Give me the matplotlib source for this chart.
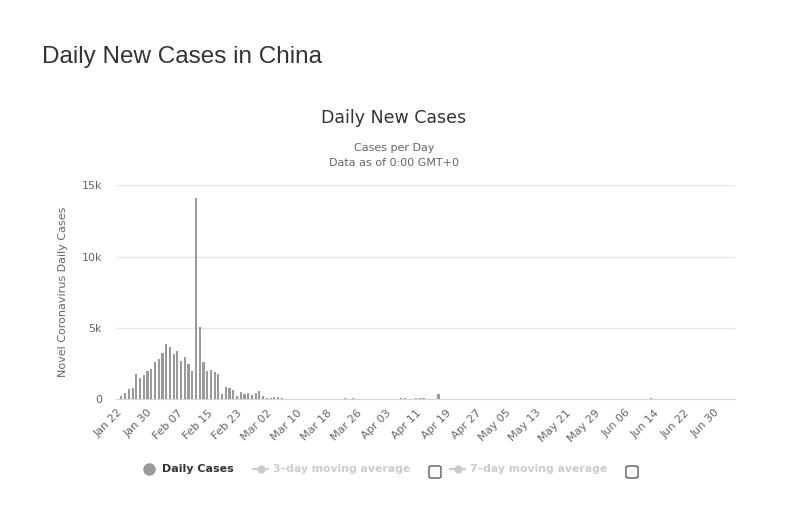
import matplotlib
matplotlib.use('Agg')
import matplotlib.pyplot as plt
import numpy as np
import pandas as pd
from matplotlib.lines import Line2D
from matplotlib.patches import FancyBboxPatch

# daily new cases, Jan 22 .. Jul 05 2020
dates = pd.date_range('2020-01-22', '2020-07-05', freq='D')
cases = [
    0, 259, 457, 688, 769, 1771, 1459, 1737, 1981, 2099,            # Jan 22-31
    2589, 2825, 3235, 3884, 3694, 3143, 3385, 2652, 2973, 2467,     # Feb 01-10
    2015, 14108, 5090, 2641, 2008, 2048, 1886, 1749, 391, 889,      # Feb 11-20
    823, 648, 214, 508, 406, 433, 327, 427, 573,                    # Feb 21-29
    202, 125, 119, 139, 143, 99, 44, 40, 19, 24,                    # Mar 01-10
    15, 8, 11, 20, 16, 21, 13, 34, 39, 41,                          # Mar 11-20
    46, 39, 78, 47, 67, 55, 54, 45, 31, 31, 48,                     # Mar 21-31
    35, 31, 19, 30, 39, 32, 62, 63, 42, 46,                         # Apr 01-10
    99, 108, 89, 46, 26, 27, 352, 16, 12, 11,                       # Apr 11-20
    30, 10, 10, 6, 12, 3, 3, 22, 4, 12,                             # Apr 21-30
    2, 1, 2, 1, 1, 2, 4, 1, 14, 17,                                 # May 01-10
    1, 7, 3, 4, 5, 8, 5, 6, 6, 2,                                   # May 11-20
    4, 0, 3, 11, 3, 1, 2, 4, 2, 4, 16,                              # May 21-31
    5, 5, 4, 6, 5, 4, 6, 3, 3, 11,                                  # Jun 01-10
    11, 11, 57, 49, 40, 44, 28, 25, 32, 26,                         # Jun 11-20
    22, 18, 22, 19, 13, 21, 17, 12, 19, 3,                          # Jun 21-30
    3, 5, 3, 8, 7,                                                  # Jul 01-05
]
date_labels = [d.strftime('%b %d') for d in dates]
y_ticks = [0, 5000, 10000, 15000]
y_tick_labels = ['0', '5k', '10k', '15k']

W, H = 805, 511
fig = plt.figure(figsize=(W / 100, H / 100), dpi=100)
fig.patch.set_facecolor('white')

left, right, top, bottom = 115.8, 735, 185.3, 399.3
ax = fig.add_axes([left / W, 1 - bottom / H, (right - left) / W, (bottom - top) / H])

x = np.arange(len(cases))
ax.bar(x, cases, width=0.58, color='#9a9a9a', zorder=3)
ax.set_xlim(-0.5, len(cases) - 0.5)
ax.set_ylim(0, 15000)

ax.set_yticks(y_ticks)
ax.set_yticklabels(y_tick_labels)
ax.yaxis.grid(True, color='#e6e6e6', linewidth=1)
ax.tick_params(axis='y', length=0, pad=10, labelsize=8, labelcolor='#666666')
for s in ['top', 'right', 'left']:
    ax.spines[s].set_visible(False)
ax.spines['bottom'].set_color('#ccd6eb')

ax.set_xticks(x[::8])
ax.set_xticklabels(date_labels[::8], rotation=45, ha='right', rotation_mode='anchor')
ax.tick_params(axis='x', length=0, pad=6, labelsize=8, labelcolor='#666666')
ax.set_ylabel('Novel Coronavirus Daily Cases', color='#666666', fontsize=8, labelpad=10)

fig.text(42 / W, 1 - 57 / H, 'Daily New Cases in China', fontsize=17.5,
         family='Liberation Sans', color='#333333', va='center', ha='left')
fig.text(394 / W, 1 - 118 / H, 'Daily New Cases', fontsize=12.5,
         color='#333333', va='center', ha='center')
fig.text(394 / W, 1 - 148 / H, 'Cases per Day', fontsize=8,
         color='#666666', va='center', ha='center')
fig.text(394 / W, 1 - 163 / H, 'Data as of 0:00 GMT+0', fontsize=8,
         color='#666666', va='center', ha='center')

# legend
ly = 1 - 469 / H
fig.add_artist(Line2D([149 / W], [ly], marker='o', markersize=8, color='#9a9a9a',
                      transform=fig.transFigure))
fig.text(162 / W, ly, 'Daily Cases', fontsize=8, fontweight='bold',
         color='#333333', va='center', ha='left')
for x0, lab, bx in [(253, '3\u2013day moving average', 435),
                    (450, '7\u2013day moving average', 632)]:
    fig.add_artist(Line2D([x0 / W, (x0 + 15) / W], [ly, ly], color='#cccccc',
                          linewidth=1.5, transform=fig.transFigure))
    fig.add_artist(Line2D([(x0 + 7.5) / W], [ly], marker='o', markersize=5,
                          color='#cccccc', transform=fig.transFigure))
    fig.text((x0 + 20) / W, ly, lab, fontsize=7.8, fontweight='bold',
             color='#cccccc', va='center', ha='left')
    fig.add_artist(FancyBboxPatch(((bx - 6) / W, 1 - 478 / H), 12 / W, 12 / H,
                                  boxstyle='round,pad=0,rounding_size=0.003',
                                  facecolor='white', edgecolor='#333333',
                                  linewidth=0.8, transform=fig.transFigure))

fig.savefig('out.png', dpi=100)
